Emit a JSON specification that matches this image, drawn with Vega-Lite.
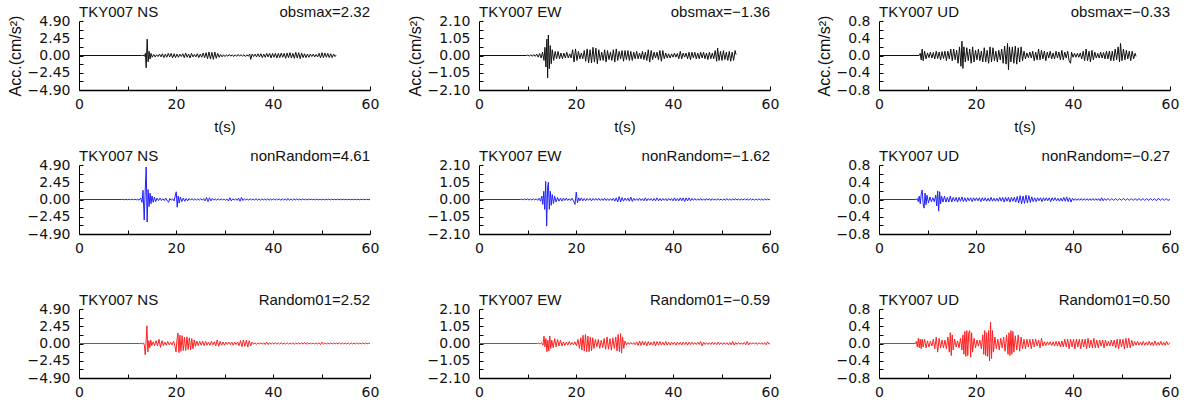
{
"$schema": "https://vega.github.io/schema/vega-lite/v6.json",
"padding": {"left": 7, "top": 5, "right": 0, "bottom": 0},
"config": {
 "view": {"stroke": null},
 "font": "Liberation Sans",
 "axis": {"grid": false, "domainColor": "#000", "tickColor": "#000", "tickWidth": 1, "labelFont": "DejaVu Sans", "labelFontSize": 14, "labelColor": "#111", "labelFlush": false, "titleFont": "Liberation Sans", "titleFontSize": 15, "titleFontWeight": "normal", "titleColor": "#111"},
 "axisX": {"domainWidth": 1.5, "titlePadding": 8},
 "axisY": {"domainWidth": 1, "titlePadding": 4},
 "line": {"strokeWidth": 1},
 "text": {"font": "Liberation Sans", "fontSize": 15, "color": "#111"}
},
"datasets": {
"ns_obs": [{"t":0,"a":0},{"t":12.9,"a":0},{"t":13.2,"a":0.05},{"t":13.5,"a":-0.1},{"t":13.7,"a":0.3},{"t":13.85,"a":-1.75},{"t":14.05,"a":2.32},{"t":14.25,"a":-0.9},{"t":14.45,"a":0.6},{"t":14.65,"a":-0.5},{"t":14.85,"a":0.3},{"t":15.1,"a":-0.25},{"t":15.4,"a":0.15},{"t":15.7,"a":-0.2},{"t":16.0,"a":0.1},{"t":16.3,"a":-0.15},{"t":16.6,"a":0.2},{"t":16.9,"a":-0.2},{"t":17.2,"a":0.25},{"t":17.5,"a":-0.3},{"t":17.8,"a":0.2},{"t":18.1,"a":-0.25},{"t":18.4,"a":0.3},{"t":18.7,"a":-0.2},{"t":19.0,"a":0.3},{"t":19.3,"a":-0.35},{"t":19.6,"a":0.25},{"t":19.9,"a":-0.3},{"t":20.2,"a":0.2},{"t":20.5,"a":-0.25},{"t":20.8,"a":0.2},{"t":21.1,"a":-0.15},{"t":21.4,"a":0.25},{"t":21.7,"a":-0.3},{"t":22.0,"a":0.35},{"t":22.3,"a":-0.25},{"t":22.6,"a":0.2},{"t":22.9,"a":-0.35},{"t":23.2,"a":0.3},{"t":23.5,"a":-0.2},{"t":23.8,"a":0.15},{"t":24.1,"a":-0.2},{"t":24.4,"a":0.25},{"t":24.7,"a":-0.3},{"t":25.0,"a":0.2},{"t":25.3,"a":-0.25},{"t":25.6,"a":0.35},{"t":25.9,"a":-0.3},{"t":26.2,"a":0.4},{"t":26.5,"a":-0.45},{"t":26.8,"a":0.5},{"t":27.1,"a":-0.5},{"t":27.4,"a":0.45},{"t":27.7,"a":-0.55},{"t":28.0,"a":0.5},{"t":28.3,"a":-0.4},{"t":28.6,"a":0.3},{"t":28.9,"a":-0.25},{"t":29.2,"a":0.15},{"t":29.5,"a":-0.2},{"t":29.8,"a":0.1},{"t":30.1,"a":-0.15},{"t":30.4,"a":0.1},{"t":30.7,"a":-0.1},{"t":31.0,"a":0.15},{"t":31.3,"a":-0.1},{"t":31.6,"a":0.1},{"t":31.9,"a":-0.15},{"t":32.2,"a":0.1},{"t":32.5,"a":-0.12},{"t":32.8,"a":0.15},{"t":33.1,"a":-0.1},{"t":33.4,"a":0.12},{"t":33.7,"a":-0.1},{"t":34.0,"a":0.1},{"t":34.3,"a":-0.15},{"t":34.6,"a":0.1},{"t":34.9,"a":-0.1},{"t":35.2,"a":0.2},{"t":35.4,"a":-0.55},{"t":35.7,"a":0.2},{"t":36.0,"a":-0.15},{"t":36.3,"a":0.2},{"t":36.6,"a":-0.2},{"t":36.9,"a":0.25},{"t":37.2,"a":-0.2},{"t":37.5,"a":0.25},{"t":37.8,"a":-0.3},{"t":38.1,"a":0.2},{"t":38.4,"a":-0.25},{"t":38.7,"a":0.3},{"t":39.0,"a":-0.2},{"t":39.3,"a":0.3},{"t":39.6,"a":-0.35},{"t":39.9,"a":0.3},{"t":40.2,"a":-0.25},{"t":40.5,"a":0.3},{"t":40.8,"a":-0.35},{"t":41.1,"a":0.3},{"t":41.4,"a":-0.3},{"t":41.7,"a":0.35},{"t":42.0,"a":-0.25},{"t":42.3,"a":0.3},{"t":42.6,"a":-0.4},{"t":42.9,"a":0.35},{"t":43.2,"a":-0.3},{"t":43.5,"a":0.4},{"t":43.8,"a":-0.35},{"t":44.1,"a":0.3},{"t":44.4,"a":-0.4},{"t":44.7,"a":0.45},{"t":45.0,"a":-0.35},{"t":45.3,"a":0.4},{"t":45.6,"a":-0.45},{"t":45.9,"a":0.35},{"t":46.2,"a":-0.3},{"t":46.5,"a":0.25},{"t":46.8,"a":-0.3},{"t":47.1,"a":0.2},{"t":47.4,"a":-0.25},{"t":47.7,"a":0.2},{"t":48.0,"a":-0.15},{"t":48.3,"a":0.2},{"t":48.6,"a":-0.2},{"t":48.9,"a":0.15},{"t":49.2,"a":-0.2},{"t":49.5,"a":0.3},{"t":49.8,"a":-0.35},{"t":50.1,"a":0.4},{"t":50.4,"a":-0.3},{"t":50.7,"a":0.35},{"t":51.0,"a":-0.25},{"t":51.3,"a":0.3},{"t":51.6,"a":-0.3},{"t":51.9,"a":0.25},{"t":52.2,"a":-0.3},{"t":52.5,"a":0.2},{"t":52.8,"a":-0.15},{"t":53.0,"a":0.05}],
"ew_obs": [{"t":0,"a":0},{"t":9.8,"a":0},{"t":10.1,"a":0.03},{"t":10.4,"a":-0.04},{"t":10.7,"a":0.05},{"t":11.0,"a":-0.05},{"t":11.3,"a":0.06},{"t":11.6,"a":-0.05},{"t":11.9,"a":0.08},{"t":12.2,"a":-0.1},{"t":12.5,"a":0.12},{"t":12.8,"a":-0.15},{"t":13.1,"a":0.2},{"t":13.4,"a":-0.3},{"t":13.6,"a":0.5},{"t":13.8,"a":-0.7},{"t":14.0,"a":1.0},{"t":14.15,"a":-1.36},{"t":14.3,"a":1.25},{"t":14.5,"a":-0.8},{"t":14.7,"a":0.6},{"t":14.9,"a":-0.5},{"t":15.1,"a":0.35},{"t":15.4,"a":-0.3},{"t":15.7,"a":0.25},{"t":16.0,"a":-0.2},{"t":16.3,"a":0.25},{"t":16.6,"a":-0.2},{"t":16.9,"a":0.15},{"t":17.2,"a":-0.2},{"t":17.5,"a":0.15},{"t":17.8,"a":-0.15},{"t":18.1,"a":0.2},{"t":18.4,"a":-0.15},{"t":18.7,"a":0.1},{"t":19.0,"a":-0.15},{"t":19.3,"a":0.35},{"t":19.6,"a":-0.4},{"t":19.9,"a":0.4},{"t":20.2,"a":-0.3},{"t":20.5,"a":0.25},{"t":20.8,"a":-0.2},{"t":21.1,"a":0.15},{"t":21.4,"a":-0.2},{"t":21.7,"a":0.3},{"t":22.0,"a":-0.35},{"t":22.3,"a":0.4},{"t":22.6,"a":-0.45},{"t":22.9,"a":0.35},{"t":23.2,"a":-0.45},{"t":23.5,"a":0.5},{"t":23.8,"a":-0.4},{"t":24.1,"a":0.45},{"t":24.4,"a":-0.5},{"t":24.7,"a":0.35},{"t":25.0,"a":-0.3},{"t":25.3,"a":0.2},{"t":25.6,"a":-0.3},{"t":25.9,"a":0.35},{"t":26.2,"a":-0.4},{"t":26.5,"a":0.3},{"t":26.8,"a":-0.25},{"t":27.1,"a":0.2},{"t":27.4,"a":-0.3},{"t":27.7,"a":0.35},{"t":28.0,"a":-0.4},{"t":28.3,"a":0.4},{"t":28.6,"a":-0.3},{"t":28.9,"a":0.25},{"t":29.2,"a":-0.2},{"t":29.5,"a":0.3},{"t":29.8,"a":-0.35},{"t":30.1,"a":0.3},{"t":30.4,"a":-0.25},{"t":30.7,"a":0.3},{"t":31.0,"a":-0.3},{"t":31.3,"a":0.25},{"t":31.6,"a":-0.3},{"t":31.9,"a":0.2},{"t":32.2,"a":-0.2},{"t":32.5,"a":0.25},{"t":32.8,"a":-0.2},{"t":33.1,"a":0.15},{"t":33.4,"a":-0.2},{"t":33.7,"a":0.25},{"t":34.0,"a":-0.25},{"t":34.3,"a":0.2},{"t":34.6,"a":-0.3},{"t":34.9,"a":0.35},{"t":35.2,"a":-0.4},{"t":35.5,"a":0.3},{"t":35.8,"a":-0.25},{"t":36.1,"a":0.2},{"t":36.4,"a":-0.15},{"t":36.7,"a":0.2},{"t":37.0,"a":-0.25},{"t":37.3,"a":0.3},{"t":37.6,"a":-0.35},{"t":37.9,"a":0.3},{"t":38.2,"a":-0.2},{"t":38.5,"a":0.15},{"t":38.8,"a":-0.15},{"t":39.1,"a":0.1},{"t":39.4,"a":-0.15},{"t":39.7,"a":0.1},{"t":40.0,"a":-0.1},{"t":40.3,"a":0.15},{"t":40.6,"a":-0.1},{"t":40.9,"a":0.12},{"t":41.2,"a":-0.2},{"t":41.5,"a":0.25},{"t":41.8,"a":-0.2},{"t":42.1,"a":0.15},{"t":42.4,"a":-0.1},{"t":42.7,"a":0.15},{"t":43.0,"a":-0.2},{"t":43.3,"a":0.2},{"t":43.6,"a":-0.25},{"t":43.9,"a":0.2},{"t":44.2,"a":-0.15},{"t":44.5,"a":0.2},{"t":44.8,"a":-0.2},{"t":45.1,"a":0.15},{"t":45.4,"a":-0.2},{"t":45.7,"a":0.2},{"t":46.0,"a":-0.15},{"t":46.3,"a":0.2},{"t":46.6,"a":-0.2},{"t":46.9,"a":0.15},{"t":47.2,"a":-0.25},{"t":47.5,"a":0.2},{"t":47.8,"a":-0.2},{"t":48.1,"a":0.15},{"t":48.4,"a":-0.2},{"t":48.7,"a":0.3},{"t":49.0,"a":-0.35},{"t":49.2,"a":0.45},{"t":49.5,"a":-0.3},{"t":49.8,"a":0.25},{"t":50.1,"a":-0.3},{"t":50.4,"a":0.3},{"t":50.7,"a":-0.25},{"t":51.0,"a":0.2},{"t":51.3,"a":-0.3},{"t":51.6,"a":0.25},{"t":51.9,"a":-0.35},{"t":52.2,"a":0.2},{"t":52.5,"a":-0.3},{"t":52.8,"a":0.3},{"t":53.0,"a":0.05}],
"ud_obs": [{"t":0,"a":0},{"t":8.3,"a":0},{"t":8.5,"a":0.05},{"t":8.7,"a":-0.1},{"t":8.9,"a":0.15},{"t":9.1,"a":-0.12},{"t":9.4,"a":0.1},{"t":9.7,"a":-0.08},{"t":10.0,"a":0.06},{"t":10.3,"a":-0.05},{"t":10.6,"a":0.08},{"t":10.9,"a":-0.06},{"t":11.2,"a":0.07},{"t":11.5,"a":-0.08},{"t":11.8,"a":0.1},{"t":12.1,"a":-0.07},{"t":12.4,"a":0.08},{"t":12.7,"a":-0.1},{"t":13.0,"a":0.09},{"t":13.3,"a":-0.07},{"t":13.6,"a":0.1},{"t":13.9,"a":-0.12},{"t":14.2,"a":0.1},{"t":14.5,"a":-0.08},{"t":14.8,"a":0.15},{"t":15.1,"a":-0.12},{"t":15.4,"a":0.15},{"t":15.7,"a":-0.1},{"t":16.0,"a":0.12},{"t":16.3,"a":-0.18},{"t":16.6,"a":0.2},{"t":16.9,"a":-0.25},{"t":17.1,"a":0.33},{"t":17.3,"a":-0.3},{"t":17.5,"a":0.2},{"t":17.8,"a":-0.15},{"t":18.1,"a":0.18},{"t":18.4,"a":-0.12},{"t":18.7,"a":0.15},{"t":19.0,"a":-0.18},{"t":19.3,"a":0.2},{"t":19.6,"a":-0.15},{"t":19.9,"a":0.12},{"t":20.2,"a":-0.1},{"t":20.5,"a":0.15},{"t":20.8,"a":-0.12},{"t":21.1,"a":0.1},{"t":21.4,"a":-0.15},{"t":21.7,"a":0.18},{"t":22.0,"a":-0.15},{"t":22.3,"a":0.12},{"t":22.6,"a":-0.18},{"t":22.9,"a":0.2},{"t":23.2,"a":-0.15},{"t":23.5,"a":0.18},{"t":23.8,"a":-0.12},{"t":24.1,"a":0.1},{"t":24.4,"a":-0.15},{"t":24.7,"a":0.12},{"t":25.0,"a":-0.1},{"t":25.3,"a":0.15},{"t":25.6,"a":-0.18},{"t":25.9,"a":0.22},{"t":26.2,"a":-0.2},{"t":26.5,"a":0.28},{"t":26.7,"a":-0.33},{"t":26.9,"a":0.2},{"t":27.2,"a":-0.15},{"t":27.5,"a":0.2},{"t":27.8,"a":-0.18},{"t":28.1,"a":0.22},{"t":28.4,"a":-0.2},{"t":28.7,"a":0.18},{"t":29.0,"a":-0.15},{"t":29.3,"a":0.2},{"t":29.6,"a":-0.12},{"t":29.9,"a":0.1},{"t":30.2,"a":-0.08},{"t":30.5,"a":0.06},{"t":30.8,"a":-0.05},{"t":31.1,"a":0.08},{"t":31.4,"a":-0.06},{"t":31.7,"a":0.1},{"t":32.0,"a":-0.12},{"t":32.3,"a":0.08},{"t":32.6,"a":-0.1},{"t":32.9,"a":0.15},{"t":33.2,"a":-0.1},{"t":33.5,"a":0.12},{"t":33.8,"a":-0.08},{"t":34.1,"a":0.1},{"t":34.4,"a":-0.12},{"t":34.7,"a":0.08},{"t":35.0,"a":-0.06},{"t":35.3,"a":0.1},{"t":35.6,"a":-0.08},{"t":35.9,"a":0.06},{"t":36.2,"a":-0.08},{"t":36.5,"a":0.1},{"t":36.8,"a":-0.06},{"t":37.1,"a":0.08},{"t":37.4,"a":-0.1},{"t":37.7,"a":0.12},{"t":38.0,"a":-0.1},{"t":38.3,"a":0.08},{"t":38.6,"a":-0.06},{"t":38.9,"a":0.1},{"t":39.2,"a":-0.12},{"t":39.5,"a":-0.18},{"t":39.7,"a":0.08},{"t":40.0,"a":-0.04},{"t":40.3,"a":0.05},{"t":40.6,"a":-0.04},{"t":40.9,"a":0.05},{"t":41.2,"a":-0.04},{"t":41.5,"a":0.06},{"t":41.8,"a":-0.08},{"t":42.1,"a":0.1},{"t":42.4,"a":-0.12},{"t":42.7,"a":0.15},{"t":43.0,"a":-0.12},{"t":43.3,"a":0.1},{"t":43.6,"a":-0.15},{"t":43.9,"a":0.12},{"t":44.2,"a":-0.1},{"t":44.5,"a":0.08},{"t":44.8,"a":-0.06},{"t":45.1,"a":0.05},{"t":45.4,"a":-0.06},{"t":45.7,"a":0.08},{"t":46.0,"a":-0.06},{"t":46.3,"a":0.07},{"t":46.6,"a":-0.08},{"t":46.9,"a":0.1},{"t":47.2,"a":-0.08},{"t":47.5,"a":0.1},{"t":47.8,"a":-0.12},{"t":48.1,"a":0.1},{"t":48.4,"a":-0.12},{"t":48.7,"a":0.15},{"t":49.0,"a":-0.1},{"t":49.3,"a":0.2},{"t":49.6,"a":-0.15},{"t":49.8,"a":0.28},{"t":50.1,"a":-0.12},{"t":50.4,"a":0.15},{"t":50.7,"a":-0.1},{"t":51.0,"a":0.12},{"t":51.3,"a":-0.08},{"t":51.6,"a":0.1},{"t":51.9,"a":-0.12},{"t":52.2,"a":0.1},{"t":52.5,"a":-0.08},{"t":52.8,"a":0.05},{"t":53.0,"a":-0.02}],
"ns_nr": [{"t":0,"a":0},{"t":8.8,"a":0},{"t":9.1,"a":0.02},{"t":9.4,"a":-0.03},{"t":9.7,"a":0.02},{"t":10.0,"a":-0.03},{"t":10.3,"a":0.03},{"t":10.6,"a":-0.03},{"t":10.9,"a":0.04},{"t":11.2,"a":-0.03},{"t":11.5,"a":0.04},{"t":11.8,"a":-0.05},{"t":12.1,"a":0.05},{"t":12.4,"a":-0.1},{"t":12.7,"a":0.2},{"t":13.0,"a":-0.4},{"t":13.2,"a":1.3},{"t":13.45,"a":-2.9},{"t":13.65,"a":1.2},{"t":13.85,"a":4.61},{"t":14.05,"a":-3.2},{"t":14.25,"a":1.4},{"t":14.45,"a":-1.0},{"t":14.65,"a":0.9},{"t":14.85,"a":-0.6},{"t":15.05,"a":0.5},{"t":15.3,"a":-0.4},{"t":15.55,"a":0.35},{"t":15.8,"a":-0.3},{"t":16.1,"a":0.2},{"t":16.4,"a":-0.15},{"t":16.7,"a":0.2},{"t":17.0,"a":-0.15},{"t":17.3,"a":0.1},{"t":17.6,"a":-0.15},{"t":17.9,"a":0.2},{"t":18.2,"a":-0.2},{"t":18.5,"a":-0.4},{"t":18.7,"a":0.15},{"t":19.0,"a":-0.1},{"t":19.3,"a":0.1},{"t":19.6,"a":-0.2},{"t":19.85,"a":0.5},{"t":20.05,"a":1.1},{"t":20.25,"a":-1.1},{"t":20.45,"a":0.5},{"t":20.65,"a":-0.5},{"t":20.9,"a":0.35},{"t":21.2,"a":-0.3},{"t":21.5,"a":0.2},{"t":21.8,"a":-0.25},{"t":22.1,"a":0.15},{"t":22.4,"a":-0.2},{"t":22.7,"a":0.15},{"t":23.0,"a":-0.1},{"t":23.3,"a":0.12},{"t":23.6,"a":-0.1},{"t":23.9,"a":0.1},{"t":24.2,"a":-0.08},{"t":24.5,"a":0.1},{"t":24.8,"a":-0.08},{"t":25.1,"a":0.1},{"t":25.4,"a":-0.1},{"t":25.7,"a":0.12},{"t":26.0,"a":-0.2},{"t":26.3,"a":0.3},{"t":26.6,"a":-0.3},{"t":26.9,"a":0.25},{"t":27.2,"a":-0.2},{"t":27.5,"a":0.15},{"t":27.8,"a":-0.1},{"t":28.1,"a":0.08},{"t":28.4,"a":-0.1},{"t":28.7,"a":0.12},{"t":29.0,"a":-0.1},{"t":29.3,"a":0.08},{"t":29.6,"a":-0.06},{"t":29.9,"a":0.08},{"t":30.2,"a":-0.1},{"t":30.5,"a":0.08},{"t":30.8,"a":-0.2},{"t":31.1,"a":0.25},{"t":31.4,"a":-0.2},{"t":31.7,"a":0.1},{"t":32.0,"a":-0.08},{"t":32.3,"a":0.1},{"t":32.6,"a":-0.12},{"t":32.9,"a":0.2},{"t":33.2,"a":-0.25},{"t":33.5,"a":0.3},{"t":33.8,"a":-0.15},{"t":34.1,"a":0.1},{"t":34.4,"a":-0.08},{"t":34.7,"a":0.06},{"t":35.0,"a":-0.08},{"t":35.3,"a":0.1},{"t":35.6,"a":-0.08},{"t":35.9,"a":0.06},{"t":36.2,"a":-0.1},{"t":36.5,"a":0.12},{"t":36.8,"a":-0.1},{"t":37.1,"a":0.08},{"t":37.4,"a":-0.1},{"t":37.7,"a":0.08},{"t":38.0,"a":-0.06},{"t":38.3,"a":0.08},{"t":38.6,"a":-0.1},{"t":38.9,"a":0.12},{"t":39.2,"a":-0.1},{"t":39.5,"a":0.08},{"t":39.8,"a":-0.1},{"t":40.1,"a":0.12},{"t":40.4,"a":-0.1},{"t":40.7,"a":0.1},{"t":41.0,"a":-0.08},{"t":41.3,"a":0.1},{"t":41.6,"a":-0.12},{"t":41.9,"a":0.1},{"t":42.2,"a":-0.08},{"t":42.5,"a":0.1},{"t":42.8,"a":-0.12},{"t":43.1,"a":0.15},{"t":43.4,"a":-0.1},{"t":43.7,"a":0.08},{"t":44.0,"a":-0.1},{"t":44.3,"a":0.08},{"t":44.6,"a":-0.06},{"t":44.9,"a":0.08},{"t":45.2,"a":-0.06},{"t":45.5,"a":0.05},{"t":45.8,"a":-0.06},{"t":46.1,"a":0.08},{"t":46.4,"a":-0.06},{"t":46.7,"a":0.05},{"t":47.0,"a":-0.06},{"t":47.3,"a":0.05},{"t":47.6,"a":-0.04},{"t":47.9,"a":0.06},{"t":48.2,"a":-0.05},{"t":48.5,"a":0.04},{"t":48.8,"a":-0.05},{"t":49.1,"a":0.06},{"t":49.4,"a":-0.05},{"t":49.7,"a":0.04},{"t":50.0,"a":-0.05},{"t":50.3,"a":0.06},{"t":50.6,"a":-0.05},{"t":50.9,"a":0.04},{"t":51.2,"a":-0.04},{"t":51.5,"a":0.05},{"t":51.8,"a":-0.06},{"t":52.1,"a":0.05},{"t":52.4,"a":-0.04},{"t":52.7,"a":0.03},{"t":53.0,"a":-0.04},{"t":53.3,"a":0.05},{"t":53.6,"a":-0.04},{"t":53.9,"a":0.03},{"t":54.2,"a":-0.04},{"t":54.5,"a":0.03},{"t":54.8,"a":-0.03},{"t":55.1,"a":0.04},{"t":55.4,"a":-0.03},{"t":55.7,"a":0.03},{"t":56.0,"a":-0.04},{"t":56.3,"a":0.03},{"t":56.6,"a":-0.03},{"t":56.9,"a":0.04},{"t":57.2,"a":-0.03},{"t":57.5,"a":0.03},{"t":57.8,"a":-0.04},{"t":58.1,"a":0.03},{"t":58.4,"a":-0.02},{"t":58.7,"a":0.03},{"t":59.0,"a":-0.03},{"t":59.3,"a":0.02},{"t":59.6,"a":-0.02},{"t":60.0,"a":0}],
"ew_nr": [{"t":0,"a":0},{"t":8.5,"a":0},{"t":8.8,"a":0.02},{"t":9.1,"a":-0.02},{"t":9.4,"a":0.03},{"t":9.7,"a":-0.02},{"t":10.0,"a":0.03},{"t":10.3,"a":-0.03},{"t":10.6,"a":0.02},{"t":10.9,"a":-0.03},{"t":11.2,"a":0.04},{"t":11.5,"a":-0.03},{"t":11.8,"a":0.04},{"t":12.1,"a":-0.05},{"t":12.4,"a":0.08},{"t":12.7,"a":-0.1},{"t":12.95,"a":0.2},{"t":13.15,"a":-0.3},{"t":13.35,"a":0.5},{"t":13.55,"a":-0.6},{"t":13.75,"a":1.1},{"t":13.95,"a":-1.62},{"t":14.15,"a":0.7},{"t":14.3,"a":1.05},{"t":14.5,"a":-0.6},{"t":14.7,"a":0.5},{"t":14.9,"a":-0.35},{"t":15.1,"a":0.3},{"t":15.35,"a":-0.25},{"t":15.6,"a":0.2},{"t":15.9,"a":-0.15},{"t":16.2,"a":0.12},{"t":16.5,"a":-0.1},{"t":16.8,"a":0.08},{"t":17.1,"a":-0.1},{"t":17.4,"a":0.08},{"t":17.7,"a":-0.06},{"t":18.0,"a":0.08},{"t":18.3,"a":-0.06},{"t":18.6,"a":0.05},{"t":18.9,"a":-0.06},{"t":19.2,"a":0.08},{"t":19.5,"a":-0.1},{"t":19.8,"a":-0.3},{"t":20.05,"a":0.45},{"t":20.3,"a":-0.2},{"t":20.55,"a":0.1},{"t":20.8,"a":-0.08},{"t":21.1,"a":0.1},{"t":21.4,"a":-0.08},{"t":21.7,"a":0.06},{"t":22.0,"a":-0.08},{"t":22.3,"a":0.06},{"t":22.6,"a":-0.05},{"t":22.9,"a":0.06},{"t":23.2,"a":-0.08},{"t":23.5,"a":0.06},{"t":23.8,"a":-0.05},{"t":24.1,"a":0.06},{"t":24.4,"a":-0.05},{"t":24.7,"a":0.07},{"t":25.0,"a":-0.06},{"t":25.3,"a":0.05},{"t":25.6,"a":-0.06},{"t":25.9,"a":0.08},{"t":26.2,"a":-0.06},{"t":26.5,"a":0.05},{"t":26.8,"a":-0.06},{"t":27.1,"a":0.05},{"t":27.4,"a":-0.06},{"t":27.7,"a":0.08},{"t":28.0,"a":-0.1},{"t":28.3,"a":0.1},{"t":28.6,"a":-0.15},{"t":28.9,"a":0.18},{"t":29.2,"a":-0.15},{"t":29.5,"a":0.12},{"t":29.8,"a":-0.1},{"t":30.1,"a":0.08},{"t":30.4,"a":-0.06},{"t":30.7,"a":0.08},{"t":31.0,"a":-0.1},{"t":31.3,"a":0.15},{"t":31.6,"a":-0.12},{"t":31.9,"a":0.08},{"t":32.2,"a":-0.06},{"t":32.5,"a":0.05},{"t":32.8,"a":-0.06},{"t":33.1,"a":0.08},{"t":33.4,"a":-0.06},{"t":33.7,"a":0.05},{"t":34.0,"a":-0.08},{"t":34.3,"a":0.1},{"t":34.6,"a":-0.08},{"t":34.9,"a":0.06},{"t":35.2,"a":-0.05},{"t":35.5,"a":0.06},{"t":35.8,"a":-0.08},{"t":36.1,"a":0.06},{"t":36.4,"a":-0.08},{"t":36.7,"a":0.1},{"t":37.0,"a":-0.08},{"t":37.3,"a":0.06},{"t":37.6,"a":-0.08},{"t":37.9,"a":0.06},{"t":38.2,"a":-0.05},{"t":38.5,"a":0.06},{"t":38.8,"a":-0.08},{"t":39.1,"a":0.06},{"t":39.4,"a":-0.05},{"t":39.7,"a":0.06},{"t":40.0,"a":-0.08},{"t":40.3,"a":0.1},{"t":40.6,"a":-0.08},{"t":40.9,"a":0.06},{"t":41.2,"a":-0.08},{"t":41.5,"a":0.1},{"t":41.8,"a":-0.08},{"t":42.1,"a":0.1},{"t":42.4,"a":-0.12},{"t":42.7,"a":0.1},{"t":43.0,"a":-0.08},{"t":43.3,"a":0.1},{"t":43.6,"a":-0.08},{"t":43.9,"a":0.06},{"t":44.2,"a":-0.05},{"t":44.5,"a":0.06},{"t":44.8,"a":-0.05},{"t":45.1,"a":0.04},{"t":45.4,"a":-0.05},{"t":45.7,"a":0.06},{"t":46.0,"a":-0.05},{"t":46.3,"a":0.04},{"t":46.6,"a":-0.05},{"t":46.9,"a":0.06},{"t":47.2,"a":-0.04},{"t":47.5,"a":0.05},{"t":47.8,"a":-0.06},{"t":48.1,"a":0.05},{"t":48.4,"a":-0.04},{"t":48.7,"a":0.03},{"t":49.0,"a":-0.04},{"t":49.3,"a":0.05},{"t":49.6,"a":-0.04},{"t":49.9,"a":0.03},{"t":50.2,"a":-0.04},{"t":50.5,"a":0.03},{"t":50.8,"a":-0.05},{"t":51.1,"a":0.06},{"t":51.4,"a":-0.04},{"t":51.7,"a":0.03},{"t":52.0,"a":-0.04},{"t":52.3,"a":0.03},{"t":52.6,"a":-0.03},{"t":52.9,"a":0.04},{"t":53.2,"a":-0.03},{"t":53.5,"a":0.03},{"t":53.8,"a":-0.04},{"t":54.1,"a":0.03},{"t":54.4,"a":-0.03},{"t":54.7,"a":0.04},{"t":55.0,"a":-0.03},{"t":55.3,"a":0.03},{"t":55.6,"a":-0.04},{"t":55.9,"a":0.05},{"t":56.2,"a":-0.03},{"t":56.5,"a":0.03},{"t":56.8,"a":-0.04},{"t":57.1,"a":0.03},{"t":57.4,"a":-0.03},{"t":57.7,"a":0.04},{"t":58.0,"a":-0.03},{"t":58.3,"a":0.03},{"t":58.6,"a":-0.04},{"t":58.9,"a":0.03},{"t":59.2,"a":-0.03},{"t":59.5,"a":0.03},{"t":59.8,"a":-0.02},{"t":60.0,"a":0}],
"ud_nr": [{"t":0,"a":0},{"t":7.6,"a":0},{"t":7.9,"a":0.02},{"t":8.1,"a":-0.05},{"t":8.3,"a":0.08},{"t":8.5,"a":-0.1},{"t":8.7,"a":0.12},{"t":8.9,"a":0.22},{"t":9.1,"a":-0.1},{"t":9.3,"a":-0.2},{"t":9.5,"a":0.15},{"t":9.7,"a":-0.12},{"t":9.9,"a":0.1},{"t":10.2,"a":-0.08},{"t":10.5,"a":0.06},{"t":10.8,"a":-0.05},{"t":11.1,"a":0.04},{"t":11.4,"a":-0.05},{"t":11.7,"a":0.1},{"t":11.9,"a":-0.15},{"t":12.1,"a":0.2},{"t":12.3,"a":-0.27},{"t":12.5,"a":0.18},{"t":12.7,"a":-0.1},{"t":12.9,"a":0.08},{"t":13.2,"a":-0.06},{"t":13.5,"a":0.08},{"t":13.8,"a":-0.06},{"t":14.1,"a":0.05},{"t":14.4,"a":-0.06},{"t":14.7,"a":0.08},{"t":15.0,"a":-0.06},{"t":15.3,"a":0.05},{"t":15.6,"a":-0.04},{"t":15.9,"a":0.05},{"t":16.2,"a":-0.06},{"t":16.5,"a":0.05},{"t":16.8,"a":-0.04},{"t":17.1,"a":0.06},{"t":17.4,"a":-0.05},{"t":17.7,"a":0.04},{"t":18.0,"a":-0.05},{"t":18.3,"a":0.04},{"t":18.6,"a":-0.03},{"t":18.9,"a":0.04},{"t":19.2,"a":-0.05},{"t":19.5,"a":0.04},{"t":19.8,"a":-0.03},{"t":20.1,"a":0.04},{"t":20.4,"a":-0.03},{"t":20.7,"a":0.04},{"t":21.0,"a":-0.05},{"t":21.3,"a":0.04},{"t":21.6,"a":-0.03},{"t":21.9,"a":0.04},{"t":22.2,"a":-0.04},{"t":22.5,"a":0.03},{"t":22.8,"a":-0.04},{"t":23.1,"a":0.05},{"t":23.4,"a":-0.04},{"t":23.7,"a":0.03},{"t":24.0,"a":-0.04},{"t":24.3,"a":0.03},{"t":24.6,"a":-0.04},{"t":24.9,"a":0.05},{"t":25.2,"a":-0.04},{"t":25.5,"a":0.05},{"t":25.8,"a":-0.06},{"t":26.1,"a":0.05},{"t":26.4,"a":-0.04},{"t":26.7,"a":0.05},{"t":27.0,"a":-0.06},{"t":27.3,"a":0.05},{"t":27.6,"a":-0.04},{"t":27.9,"a":0.05},{"t":28.2,"a":-0.06},{"t":28.5,"a":0.07},{"t":28.8,"a":-0.08},{"t":29.1,"a":0.09},{"t":29.4,"a":-0.1},{"t":29.7,"a":0.08},{"t":30.0,"a":-0.09},{"t":30.3,"a":0.1},{"t":30.6,"a":-0.08},{"t":30.9,"a":0.09},{"t":31.2,"a":-0.07},{"t":31.5,"a":0.06},{"t":31.8,"a":-0.05},{"t":32.1,"a":0.04},{"t":32.4,"a":-0.05},{"t":32.7,"a":0.04},{"t":33.0,"a":-0.03},{"t":33.3,"a":0.04},{"t":33.6,"a":-0.05},{"t":33.9,"a":0.04},{"t":34.2,"a":-0.03},{"t":34.5,"a":0.04},{"t":34.8,"a":-0.03},{"t":35.1,"a":0.04},{"t":35.4,"a":-0.05},{"t":35.7,"a":0.04},{"t":36.0,"a":-0.03},{"t":36.3,"a":0.04},{"t":36.6,"a":-0.03},{"t":36.9,"a":0.03},{"t":37.2,"a":-0.04},{"t":37.5,"a":0.03},{"t":37.8,"a":-0.04},{"t":38.1,"a":0.05},{"t":38.4,"a":-0.04},{"t":38.7,"a":0.06},{"t":39.0,"a":-0.05},{"t":39.3,"a":0.04},{"t":39.6,"a":-0.06},{"t":39.9,"a":0.03},{"t":40.2,"a":-0.02},{"t":40.5,"a":0.02},{"t":40.8,"a":-0.02},{"t":41.1,"a":0.02},{"t":41.4,"a":-0.02},{"t":41.7,"a":0.02},{"t":42.0,"a":-0.02},{"t":42.3,"a":0.02},{"t":42.6,"a":-0.02},{"t":42.9,"a":0.02},{"t":43.2,"a":-0.02},{"t":43.5,"a":0.02},{"t":43.8,"a":-0.02},{"t":44.1,"a":0.02},{"t":44.4,"a":-0.02},{"t":44.7,"a":0.02},{"t":45.0,"a":-0.02},{"t":45.3,"a":0.02},{"t":45.6,"a":-0.03},{"t":45.9,"a":0.04},{"t":46.2,"a":-0.03},{"t":46.5,"a":0.02},{"t":46.8,"a":-0.02},{"t":47.2,"a":0.02},{"t":47.6,"a":-0.02},{"t":48.0,"a":0.02},{"t":48.4,"a":-0.02},{"t":48.8,"a":0.02},{"t":49.2,"a":-0.02},{"t":49.6,"a":0.02},{"t":50.0,"a":-0.02},{"t":50.4,"a":0.03},{"t":50.8,"a":-0.02},{"t":51.2,"a":0.02},{"t":51.6,"a":-0.02},{"t":52.0,"a":0.02},{"t":52.4,"a":-0.02},{"t":52.8,"a":0.02},{"t":53.2,"a":-0.02},{"t":53.6,"a":0.02},{"t":54.0,"a":-0.02},{"t":54.4,"a":0.02},{"t":54.8,"a":-0.02},{"t":55.2,"a":0.02},{"t":55.6,"a":-0.02},{"t":56.0,"a":0.02},{"t":56.4,"a":-0.02},{"t":56.8,"a":0.02},{"t":57.2,"a":-0.03},{"t":57.6,"a":0.03},{"t":58.0,"a":-0.02},{"t":58.4,"a":0.02},{"t":58.8,"a":-0.02},{"t":59.2,"a":0.02},{"t":59.6,"a":-0.02},{"t":60.0,"a":0}],
"ns_r": [{"t":0,"a":0},{"t":12.5,"a":0},{"t":12.8,"a":0.03},{"t":13.1,"a":-0.05},{"t":13.3,"a":0.1},{"t":13.5,"a":-0.3},{"t":13.65,"a":-1.6},{"t":13.85,"a":0.5},{"t":14.0,"a":2.52},{"t":14.2,"a":-1.2},{"t":14.4,"a":0.4},{"t":14.6,"a":-0.6},{"t":14.8,"a":0.5},{"t":15.0,"a":-0.3},{"t":15.3,"a":0.25},{"t":15.6,"a":-0.3},{"t":15.9,"a":0.4},{"t":16.2,"a":-0.35},{"t":16.5,"a":0.6},{"t":16.8,"a":-0.55},{"t":17.1,"a":0.4},{"t":17.4,"a":-0.3},{"t":17.7,"a":0.2},{"t":18.0,"a":-0.25},{"t":18.3,"a":0.3},{"t":18.6,"a":-0.2},{"t":18.9,"a":0.15},{"t":19.2,"a":-0.2},{"t":19.5,"a":0.3},{"t":19.8,"a":-0.4},{"t":20.0,"a":-1.2},{"t":20.2,"a":0.5},{"t":20.4,"a":1.5},{"t":20.6,"a":-1.3},{"t":20.8,"a":1.2},{"t":21.0,"a":-1.1},{"t":21.25,"a":1.1},{"t":21.5,"a":-1.0},{"t":21.75,"a":0.9},{"t":22.0,"a":-1.0},{"t":22.25,"a":0.95},{"t":22.5,"a":-0.85},{"t":22.75,"a":0.8},{"t":23.0,"a":-0.9},{"t":23.25,"a":0.7},{"t":23.5,"a":-0.75},{"t":23.75,"a":0.5},{"t":24.0,"a":-0.4},{"t":24.3,"a":0.35},{"t":24.6,"a":-0.3},{"t":24.9,"a":0.3},{"t":25.2,"a":-0.25},{"t":25.5,"a":0.35},{"t":25.8,"a":-0.3},{"t":26.1,"a":0.3},{"t":26.4,"a":-0.25},{"t":26.7,"a":0.2},{"t":27.0,"a":-0.25},{"t":27.3,"a":0.3},{"t":27.6,"a":-0.2},{"t":27.9,"a":0.25},{"t":28.2,"a":-0.35},{"t":28.5,"a":0.5},{"t":28.8,"a":-0.4},{"t":29.1,"a":0.3},{"t":29.4,"a":-0.25},{"t":29.7,"a":0.2},{"t":30.0,"a":-0.25},{"t":30.3,"a":0.2},{"t":30.6,"a":-0.15},{"t":30.9,"a":0.2},{"t":31.2,"a":-0.15},{"t":31.5,"a":0.2},{"t":31.8,"a":-0.25},{"t":32.1,"a":0.2},{"t":32.4,"a":-0.15},{"t":32.7,"a":0.2},{"t":33.0,"a":-0.3},{"t":33.3,"a":0.4},{"t":33.6,"a":-0.45},{"t":33.9,"a":0.5},{"t":34.2,"a":-0.4},{"t":34.5,"a":0.45},{"t":34.8,"a":-0.5},{"t":35.1,"a":0.4},{"t":35.4,"a":-0.35},{"t":35.7,"a":0.2},{"t":36.0,"a":-0.1},{"t":36.3,"a":0.08},{"t":36.6,"a":-0.1},{"t":36.9,"a":0.08},{"t":37.2,"a":-0.06},{"t":37.5,"a":0.08},{"t":37.8,"a":-0.1},{"t":38.1,"a":0.12},{"t":38.4,"a":-0.15},{"t":38.7,"a":0.2},{"t":39.0,"a":-0.15},{"t":39.3,"a":0.12},{"t":39.6,"a":-0.1},{"t":39.9,"a":0.08},{"t":40.2,"a":-0.1},{"t":40.5,"a":0.12},{"t":40.8,"a":-0.1},{"t":41.1,"a":0.08},{"t":41.4,"a":-0.1},{"t":41.7,"a":0.12},{"t":42.0,"a":-0.1},{"t":42.3,"a":0.08},{"t":42.6,"a":-0.1},{"t":42.9,"a":0.12},{"t":43.2,"a":-0.1},{"t":43.5,"a":0.08},{"t":43.8,"a":-0.06},{"t":44.1,"a":0.08},{"t":44.4,"a":-0.1},{"t":44.7,"a":0.08},{"t":45.0,"a":-0.06},{"t":45.3,"a":0.08},{"t":45.6,"a":-0.1},{"t":45.9,"a":0.12},{"t":46.2,"a":-0.1},{"t":46.5,"a":0.15},{"t":46.8,"a":-0.1},{"t":47.1,"a":0.08},{"t":47.4,"a":-0.06},{"t":47.7,"a":0.05},{"t":48.0,"a":-0.06},{"t":48.3,"a":0.05},{"t":48.6,"a":-0.06},{"t":48.9,"a":0.08},{"t":49.2,"a":-0.06},{"t":49.5,"a":0.1},{"t":49.8,"a":-0.15},{"t":50.1,"a":0.2},{"t":50.4,"a":-0.12},{"t":50.7,"a":0.08},{"t":51.0,"a":-0.06},{"t":51.3,"a":0.08},{"t":51.6,"a":-0.06},{"t":51.9,"a":0.05},{"t":52.2,"a":-0.06},{"t":52.5,"a":0.08},{"t":52.8,"a":-0.06},{"t":53.1,"a":0.05},{"t":53.4,"a":-0.06},{"t":53.7,"a":0.08},{"t":54.0,"a":-0.1},{"t":54.3,"a":0.08},{"t":54.6,"a":-0.06},{"t":54.9,"a":0.05},{"t":55.2,"a":-0.06},{"t":55.5,"a":0.08},{"t":55.8,"a":-0.1},{"t":56.1,"a":0.08},{"t":56.4,"a":-0.06},{"t":56.7,"a":0.05},{"t":57.0,"a":-0.06},{"t":57.3,"a":0.08},{"t":57.6,"a":-0.06},{"t":57.9,"a":0.05},{"t":58.2,"a":-0.06},{"t":58.5,"a":0.08},{"t":58.8,"a":-0.05},{"t":59.1,"a":0.06},{"t":59.4,"a":-0.05},{"t":59.7,"a":0.04},{"t":60.0,"a":0}],
"ew_r": [{"t":0,"a":0},{"t":12.0,"a":0},{"t":12.3,"a":0.02},{"t":12.6,"a":-0.03},{"t":12.9,"a":0.05},{"t":13.2,"a":-0.1},{"t":13.4,"a":0.45},{"t":13.6,"a":-0.2},{"t":13.8,"a":0.3},{"t":14.0,"a":-0.5},{"t":14.2,"a":0.2},{"t":14.4,"a":-0.45},{"t":14.6,"a":0.45},{"t":14.8,"a":-0.3},{"t":15.0,"a":0.2},{"t":15.3,"a":-0.25},{"t":15.6,"a":0.3},{"t":15.9,"a":-0.2},{"t":16.2,"a":0.25},{"t":16.5,"a":-0.15},{"t":16.8,"a":0.2},{"t":17.1,"a":-0.15},{"t":17.4,"a":0.1},{"t":17.7,"a":-0.12},{"t":18.0,"a":0.08},{"t":18.3,"a":-0.1},{"t":18.6,"a":0.12},{"t":18.9,"a":-0.08},{"t":19.2,"a":0.06},{"t":19.5,"a":-0.08},{"t":19.8,"a":0.1},{"t":20.1,"a":-0.15},{"t":20.4,"a":0.25},{"t":20.7,"a":-0.3},{"t":21.0,"a":0.35},{"t":21.2,"a":-0.4},{"t":21.45,"a":0.5},{"t":21.7,"a":-0.45},{"t":21.95,"a":0.55},{"t":22.2,"a":-0.5},{"t":22.45,"a":0.45},{"t":22.7,"a":-0.5},{"t":22.95,"a":0.4},{"t":23.2,"a":-0.45},{"t":23.45,"a":0.35},{"t":23.7,"a":-0.3},{"t":24.0,"a":0.25},{"t":24.3,"a":-0.2},{"t":24.6,"a":0.25},{"t":24.9,"a":-0.3},{"t":25.2,"a":0.2},{"t":25.5,"a":-0.25},{"t":25.8,"a":0.3},{"t":26.1,"a":-0.35},{"t":26.4,"a":0.4},{"t":26.7,"a":-0.35},{"t":27.0,"a":0.3},{"t":27.3,"a":-0.4},{"t":27.6,"a":0.35},{"t":27.9,"a":-0.3},{"t":28.2,"a":0.4},{"t":28.45,"a":-0.45},{"t":28.7,"a":0.55},{"t":28.95,"a":-0.5},{"t":29.2,"a":0.6},{"t":29.4,"a":-0.59},{"t":29.6,"a":0.4},{"t":29.85,"a":-0.3},{"t":30.1,"a":0.15},{"t":30.4,"a":-0.08},{"t":30.7,"a":0.06},{"t":31.0,"a":-0.05},{"t":31.3,"a":0.06},{"t":31.6,"a":-0.05},{"t":31.9,"a":0.06},{"t":32.2,"a":-0.08},{"t":32.5,"a":0.1},{"t":32.8,"a":-0.12},{"t":33.1,"a":0.15},{"t":33.4,"a":-0.12},{"t":33.7,"a":0.15},{"t":34.0,"a":-0.1},{"t":34.3,"a":0.12},{"t":34.6,"a":-0.15},{"t":34.9,"a":0.12},{"t":35.2,"a":-0.1},{"t":35.5,"a":0.08},{"t":35.8,"a":-0.1},{"t":36.1,"a":0.12},{"t":36.4,"a":-0.15},{"t":36.7,"a":0.12},{"t":37.0,"a":-0.1},{"t":37.3,"a":0.12},{"t":37.6,"a":-0.1},{"t":37.9,"a":0.08},{"t":38.2,"a":-0.1},{"t":38.5,"a":0.12},{"t":38.8,"a":-0.1},{"t":39.1,"a":0.08},{"t":39.4,"a":-0.1},{"t":39.7,"a":0.08},{"t":40.0,"a":-0.06},{"t":40.3,"a":0.08},{"t":40.6,"a":-0.1},{"t":40.9,"a":0.08},{"t":41.2,"a":-0.06},{"t":41.5,"a":0.08},{"t":41.8,"a":-0.1},{"t":42.1,"a":0.08},{"t":42.4,"a":-0.06},{"t":42.7,"a":0.08},{"t":43.0,"a":-0.1},{"t":43.3,"a":0.08},{"t":43.6,"a":-0.06},{"t":43.9,"a":0.08},{"t":44.2,"a":-0.06},{"t":44.5,"a":0.05},{"t":44.8,"a":-0.06},{"t":45.1,"a":0.08},{"t":45.4,"a":-0.06},{"t":45.7,"a":0.12},{"t":46.0,"a":-0.15},{"t":46.3,"a":0.08},{"t":46.6,"a":-0.06},{"t":46.9,"a":0.05},{"t":47.2,"a":-0.06},{"t":47.5,"a":0.05},{"t":47.8,"a":-0.06},{"t":48.1,"a":0.08},{"t":48.4,"a":-0.06},{"t":48.7,"a":0.05},{"t":49.0,"a":-0.06},{"t":49.3,"a":0.08},{"t":49.6,"a":-0.06},{"t":49.9,"a":0.05},{"t":50.2,"a":-0.06},{"t":50.5,"a":0.05},{"t":50.8,"a":-0.06},{"t":51.1,"a":0.05},{"t":51.4,"a":-0.08},{"t":51.7,"a":0.06},{"t":52.0,"a":-0.08},{"t":52.3,"a":0.12},{"t":52.6,"a":-0.1},{"t":52.9,"a":0.06},{"t":53.2,"a":-0.05},{"t":53.5,"a":0.06},{"t":53.8,"a":-0.05},{"t":54.1,"a":0.04},{"t":54.4,"a":-0.05},{"t":54.7,"a":0.06},{"t":55.0,"a":-0.08},{"t":55.3,"a":0.12},{"t":55.6,"a":-0.08},{"t":55.9,"a":0.05},{"t":56.2,"a":-0.04},{"t":56.5,"a":0.05},{"t":56.8,"a":-0.04},{"t":57.1,"a":0.05},{"t":57.4,"a":-0.06},{"t":57.7,"a":0.05},{"t":58.0,"a":-0.04},{"t":58.3,"a":0.05},{"t":58.6,"a":-0.06},{"t":58.9,"a":0.05},{"t":59.2,"a":-0.08},{"t":59.5,"a":0.1},{"t":59.8,"a":-0.04},{"t":60.0,"a":0}],
"ud_r": [{"t":0,"a":0},{"t":7.5,"a":0},{"t":7.7,"a":0.05},{"t":7.9,"a":-0.08},{"t":8.1,"a":0.12},{"t":8.3,"a":-0.1},{"t":8.5,"a":0.1},{"t":8.7,"a":-0.12},{"t":8.9,"a":0.1},{"t":9.1,"a":-0.08},{"t":9.4,"a":0.1},{"t":9.7,"a":-0.1},{"t":10.0,"a":0.06},{"t":10.3,"a":-0.08},{"t":10.6,"a":0.05},{"t":10.9,"a":-0.06},{"t":11.2,"a":0.1},{"t":11.5,"a":-0.12},{"t":11.8,"a":0.15},{"t":12.1,"a":-0.2},{"t":12.4,"a":0.12},{"t":12.7,"a":-0.1},{"t":13.0,"a":0.08},{"t":13.3,"a":-0.1},{"t":13.6,"a":0.08},{"t":13.9,"a":-0.12},{"t":14.2,"a":0.15},{"t":14.5,"a":-0.2},{"t":14.7,"a":0.25},{"t":14.9,"a":-0.28},{"t":15.1,"a":0.2},{"t":15.3,"a":-0.15},{"t":15.6,"a":0.1},{"t":15.9,"a":-0.08},{"t":16.2,"a":0.06},{"t":16.5,"a":-0.1},{"t":16.8,"a":0.12},{"t":17.1,"a":-0.15},{"t":17.3,"a":0.2},{"t":17.5,"a":-0.25},{"t":17.7,"a":0.28},{"t":17.9,"a":-0.3},{"t":18.1,"a":0.3},{"t":18.3,"a":-0.28},{"t":18.5,"a":0.25},{"t":18.7,"a":0.3},{"t":18.9,"a":-0.32},{"t":19.1,"a":0.25},{"t":19.3,"a":-0.2},{"t":19.6,"a":0.12},{"t":19.9,"a":-0.1},{"t":20.2,"a":0.08},{"t":20.5,"a":-0.06},{"t":20.8,"a":0.08},{"t":21.1,"a":-0.12},{"t":21.4,"a":0.2},{"t":21.6,"a":-0.25},{"t":21.8,"a":0.3},{"t":22.0,"a":-0.28},{"t":22.2,"a":0.25},{"t":22.4,"a":-0.3},{"t":22.6,"a":0.3},{"t":22.8,"a":-0.4},{"t":23.0,"a":0.5},{"t":23.2,"a":-0.35},{"t":23.4,"a":0.3},{"t":23.6,"a":-0.2},{"t":23.9,"a":0.15},{"t":24.2,"a":-0.12},{"t":24.5,"a":0.1},{"t":24.8,"a":-0.15},{"t":25.1,"a":0.12},{"t":25.4,"a":-0.1},{"t":25.7,"a":0.15},{"t":26.0,"a":-0.18},{"t":26.3,"a":0.2},{"t":26.6,"a":-0.25},{"t":26.8,"a":0.25},{"t":27.0,"a":-0.28},{"t":27.2,"a":0.3},{"t":27.4,"a":-0.25},{"t":27.6,"a":0.28},{"t":27.8,"a":-0.2},{"t":28.1,"a":0.18},{"t":28.4,"a":-0.15},{"t":28.7,"a":0.2},{"t":29.0,"a":-0.18},{"t":29.3,"a":0.15},{"t":29.6,"a":-0.12},{"t":29.9,"a":0.1},{"t":30.2,"a":-0.12},{"t":30.5,"a":0.1},{"t":30.8,"a":-0.08},{"t":31.1,"a":0.1},{"t":31.4,"a":-0.12},{"t":31.7,"a":0.1},{"t":32.0,"a":-0.08},{"t":32.3,"a":0.1},{"t":32.6,"a":-0.06},{"t":32.9,"a":0.08},{"t":33.2,"a":-0.1},{"t":33.5,"a":0.12},{"t":33.8,"a":-0.06},{"t":34.1,"a":0.04},{"t":34.4,"a":-0.05},{"t":34.7,"a":0.04},{"t":35.0,"a":-0.03},{"t":35.3,"a":0.04},{"t":35.6,"a":-0.05},{"t":35.9,"a":0.04},{"t":36.2,"a":-0.06},{"t":36.5,"a":0.05},{"t":36.8,"a":-0.06},{"t":37.1,"a":0.05},{"t":37.4,"a":-0.08},{"t":37.7,"a":0.06},{"t":38.0,"a":-0.08},{"t":38.3,"a":0.1},{"t":38.6,"a":-0.08},{"t":38.9,"a":0.1},{"t":39.2,"a":-0.12},{"t":39.5,"a":0.1},{"t":39.8,"a":-0.08},{"t":40.1,"a":0.1},{"t":40.4,"a":-0.12},{"t":40.7,"a":0.1},{"t":41.0,"a":-0.08},{"t":41.3,"a":0.1},{"t":41.6,"a":-0.12},{"t":41.9,"a":0.1},{"t":42.2,"a":-0.08},{"t":42.5,"a":0.1},{"t":42.8,"a":-0.12},{"t":43.1,"a":0.12},{"t":43.4,"a":-0.1},{"t":43.7,"a":0.08},{"t":44.0,"a":-0.1},{"t":44.3,"a":0.12},{"t":44.6,"a":-0.1},{"t":44.9,"a":0.08},{"t":45.2,"a":-0.1},{"t":45.5,"a":0.08},{"t":45.8,"a":-0.06},{"t":46.1,"a":0.08},{"t":46.4,"a":-0.1},{"t":46.7,"a":0.08},{"t":47.0,"a":-0.06},{"t":47.3,"a":0.05},{"t":47.6,"a":-0.06},{"t":47.9,"a":0.08},{"t":48.2,"a":-0.06},{"t":48.5,"a":0.08},{"t":48.8,"a":-0.1},{"t":49.1,"a":0.1},{"t":49.4,"a":-0.12},{"t":49.7,"a":0.1},{"t":50.0,"a":-0.08},{"t":50.3,"a":0.1},{"t":50.6,"a":-0.12},{"t":50.9,"a":0.12},{"t":51.2,"a":-0.1},{"t":51.5,"a":0.12},{"t":51.8,"a":-0.1},{"t":52.1,"a":0.08},{"t":52.4,"a":-0.06},{"t":52.7,"a":0.05},{"t":53.0,"a":-0.04},{"t":53.3,"a":0.05},{"t":53.6,"a":-0.04},{"t":53.9,"a":0.03},{"t":54.2,"a":-0.04},{"t":54.5,"a":0.05},{"t":54.8,"a":-0.04},{"t":55.1,"a":0.03},{"t":55.4,"a":-0.04},{"t":55.7,"a":0.05},{"t":56.0,"a":-0.04},{"t":56.3,"a":0.03},{"t":56.6,"a":-0.05},{"t":56.9,"a":0.06},{"t":57.2,"a":-0.04},{"t":57.5,"a":0.03},{"t":57.8,"a":-0.04},{"t":58.1,"a":0.05},{"t":58.4,"a":-0.04},{"t":58.7,"a":0.03},{"t":59.0,"a":-0.04},{"t":59.3,"a":0.05},{"t":59.6,"a":-0.03},{"t":60.0,"a":0.02}]
},
"columns": 3,
"bounds": "flush",
"spacing": {"row": 75, "column": 109},
"concat": [
{"data": {"name": "ns_obs"}, "width": 291, "height": 69, "layer": [
 {"mark": {"type": "line", "color": "#111"}, "encoding": {
  "x": {"field": "t", "type": "quantitative", "scale": {"domain": [0, 60], "nice": false}, "axis": {"values": [0,10,20,30,40,50,60], "tickCount": 20, "labelExpr": "datum.value % 20 == 0 ? datum.label : ''", "labelOverlap": false, "tickSize": -4, "labelPadding": 11, "title": "t(s)"}},
  "y": {"field": "a", "type": "quantitative", "scale": {"domain": [-4.9, 4.9], "nice": false, "zero": false}, "axis": {"values": [-4.9,-3.675,-2.45,-1.225,0,1.225,2.45,3.675,4.9], "tickCount": 20, "format": ".2f", "labelExpr": "indexof([-4.9,-2.45,0,2.45,4.9], datum.value) >= 0 ? datum.label : ''", "labelOverlap": false, "tickSize": -4, "labelPadding": 13, "title": "Acc.(cm/s²)", "titleFontSize": 16}}}},
 {"data": {"values": [{"tl": "TKY007 NS", "tr": "obsmax=2.32"}]}, "layer": [
  {"mark": {"type": "text", "align": "left", "baseline": "alphabetic", "dy": -4}, "encoding": {"x": {"datum": 0, "type": "quantitative"}, "y": {"datum": 4.9, "type": "quantitative"}, "text": {"field": "tl"}}},
  {"mark": {"type": "text", "align": "right", "baseline": "alphabetic", "dy": -4}, "encoding": {"x": {"datum": 60, "type": "quantitative"}, "y": {"datum": 4.9, "type": "quantitative"}, "text": {"field": "tr"}}}
 ]}
]},
{"data": {"name": "ew_obs"}, "width": 291, "height": 69, "layer": [
 {"mark": {"type": "line", "color": "#111"}, "encoding": {
  "x": {"field": "t", "type": "quantitative", "scale": {"domain": [0, 60], "nice": false}, "axis": {"values": [0,10,20,30,40,50,60], "tickCount": 20, "labelExpr": "datum.value % 20 == 0 ? datum.label : ''", "labelOverlap": false, "tickSize": -4, "labelPadding": 11, "title": "t(s)"}},
  "y": {"field": "a", "type": "quantitative", "scale": {"domain": [-2.1, 2.1], "nice": false, "zero": false}, "axis": {"values": [-2.1,-1.575,-1.05,-0.525,0,0.525,1.05,1.575,2.1], "tickCount": 20, "format": ".2f", "labelExpr": "indexof([-2.1,-1.05,0,1.05,2.1], datum.value) >= 0 ? datum.label : ''", "labelOverlap": false, "tickSize": -4, "labelPadding": 13, "title": "Acc.(cm/s²)", "titleFontSize": 16}}}},
 {"data": {"values": [{"tl": "TKY007 EW", "tr": "obsmax=−1.36"}]}, "layer": [
  {"mark": {"type": "text", "align": "left", "baseline": "alphabetic", "dy": -4}, "encoding": {"x": {"datum": 0, "type": "quantitative"}, "y": {"datum": 2.1, "type": "quantitative"}, "text": {"field": "tl"}}},
  {"mark": {"type": "text", "align": "right", "baseline": "alphabetic", "dy": -4}, "encoding": {"x": {"datum": 60, "type": "quantitative"}, "y": {"datum": 2.1, "type": "quantitative"}, "text": {"field": "tr"}}}
 ]}
]},
{"data": {"name": "ud_obs"}, "width": 291, "height": 69, "layer": [
 {"mark": {"type": "line", "color": "#111"}, "encoding": {
  "x": {"field": "t", "type": "quantitative", "scale": {"domain": [0, 60], "nice": false}, "axis": {"values": [0,10,20,30,40,50,60], "tickCount": 20, "labelExpr": "datum.value % 20 == 0 ? datum.label : ''", "labelOverlap": false, "tickSize": -4, "labelPadding": 11, "title": "t(s)"}},
  "y": {"field": "a", "type": "quantitative", "scale": {"domain": [-0.8, 0.8], "nice": false, "zero": false}, "axis": {"values": [-0.8,-0.6,-0.4,-0.2,0,0.2,0.4,0.6,0.8], "tickCount": 20, "format": ".1f", "labelExpr": "indexof([-0.8,-0.4,0,0.4,0.8], datum.value) >= 0 ? datum.label : ''", "labelOverlap": false, "tickSize": -4, "labelPadding": 13, "title": "Acc.(cm/s²)", "titleFontSize": 16}}}},
 {"data": {"values": [{"tl": "TKY007 UD", "tr": "obsmax=−0.33"}]}, "layer": [
  {"mark": {"type": "text", "align": "left", "baseline": "alphabetic", "dy": -4}, "encoding": {"x": {"datum": 0, "type": "quantitative"}, "y": {"datum": 0.8, "type": "quantitative"}, "text": {"field": "tl"}}},
  {"mark": {"type": "text", "align": "right", "baseline": "alphabetic", "dy": -4}, "encoding": {"x": {"datum": 60, "type": "quantitative"}, "y": {"datum": 0.8, "type": "quantitative"}, "text": {"field": "tr"}}}
 ]}
]},
{"data": {"name": "ns_nr"}, "width": 291, "height": 69, "layer": [
 {"mark": {"type": "line", "color": "#2020ff"}, "encoding": {
  "x": {"field": "t", "type": "quantitative", "scale": {"domain": [0, 60], "nice": false}, "axis": {"values": [0,10,20,30,40,50,60], "tickCount": 20, "labelExpr": "datum.value % 20 == 0 ? datum.label : ''", "labelOverlap": false, "tickSize": -4, "labelPadding": 11, "title": null}},
  "y": {"field": "a", "type": "quantitative", "scale": {"domain": [-4.9, 4.9], "nice": false, "zero": false}, "axis": {"values": [-4.9,-3.675,-2.45,-1.225,0,1.225,2.45,3.675,4.9], "tickCount": 20, "format": ".2f", "labelExpr": "indexof([-4.9,-2.45,0,2.45,4.9], datum.value) >= 0 ? datum.label : ''", "labelOverlap": false, "tickSize": -4, "labelPadding": 13, "title": null}}}},
 {"data": {"values": [{"tl": "TKY007 NS", "tr": "nonRandom=4.61"}]}, "layer": [
  {"mark": {"type": "text", "align": "left", "baseline": "alphabetic", "dy": -4}, "encoding": {"x": {"datum": 0, "type": "quantitative"}, "y": {"datum": 4.9, "type": "quantitative"}, "text": {"field": "tl"}}},
  {"mark": {"type": "text", "align": "right", "baseline": "alphabetic", "dy": -4}, "encoding": {"x": {"datum": 60, "type": "quantitative"}, "y": {"datum": 4.9, "type": "quantitative"}, "text": {"field": "tr"}}}
 ]}
]},
{"data": {"name": "ew_nr"}, "width": 291, "height": 69, "layer": [
 {"mark": {"type": "line", "color": "#2020ff"}, "encoding": {
  "x": {"field": "t", "type": "quantitative", "scale": {"domain": [0, 60], "nice": false}, "axis": {"values": [0,10,20,30,40,50,60], "tickCount": 20, "labelExpr": "datum.value % 20 == 0 ? datum.label : ''", "labelOverlap": false, "tickSize": -4, "labelPadding": 11, "title": null}},
  "y": {"field": "a", "type": "quantitative", "scale": {"domain": [-2.1, 2.1], "nice": false, "zero": false}, "axis": {"values": [-2.1,-1.575,-1.05,-0.525,0,0.525,1.05,1.575,2.1], "tickCount": 20, "format": ".2f", "labelExpr": "indexof([-2.1,-1.05,0,1.05,2.1], datum.value) >= 0 ? datum.label : ''", "labelOverlap": false, "tickSize": -4, "labelPadding": 13, "title": null}}}},
 {"data": {"values": [{"tl": "TKY007 EW", "tr": "nonRandom=−1.62"}]}, "layer": [
  {"mark": {"type": "text", "align": "left", "baseline": "alphabetic", "dy": -4}, "encoding": {"x": {"datum": 0, "type": "quantitative"}, "y": {"datum": 2.1, "type": "quantitative"}, "text": {"field": "tl"}}},
  {"mark": {"type": "text", "align": "right", "baseline": "alphabetic", "dy": -4}, "encoding": {"x": {"datum": 60, "type": "quantitative"}, "y": {"datum": 2.1, "type": "quantitative"}, "text": {"field": "tr"}}}
 ]}
]},
{"data": {"name": "ud_nr"}, "width": 291, "height": 69, "layer": [
 {"mark": {"type": "line", "color": "#2020ff"}, "encoding": {
  "x": {"field": "t", "type": "quantitative", "scale": {"domain": [0, 60], "nice": false}, "axis": {"values": [0,10,20,30,40,50,60], "tickCount": 20, "labelExpr": "datum.value % 20 == 0 ? datum.label : ''", "labelOverlap": false, "tickSize": -4, "labelPadding": 11, "title": null}},
  "y": {"field": "a", "type": "quantitative", "scale": {"domain": [-0.8, 0.8], "nice": false, "zero": false}, "axis": {"values": [-0.8,-0.6,-0.4,-0.2,0,0.2,0.4,0.6,0.8], "tickCount": 20, "format": ".1f", "labelExpr": "indexof([-0.8,-0.4,0,0.4,0.8], datum.value) >= 0 ? datum.label : ''", "labelOverlap": false, "tickSize": -4, "labelPadding": 13, "title": null}}}},
 {"data": {"values": [{"tl": "TKY007 UD", "tr": "nonRandom=−0.27"}]}, "layer": [
  {"mark": {"type": "text", "align": "left", "baseline": "alphabetic", "dy": -4}, "encoding": {"x": {"datum": 0, "type": "quantitative"}, "y": {"datum": 0.8, "type": "quantitative"}, "text": {"field": "tl"}}},
  {"mark": {"type": "text", "align": "right", "baseline": "alphabetic", "dy": -4}, "encoding": {"x": {"datum": 60, "type": "quantitative"}, "y": {"datum": 0.8, "type": "quantitative"}, "text": {"field": "tr"}}}
 ]}
]},
{"data": {"name": "ns_r"}, "width": 291, "height": 69, "layer": [
 {"mark": {"type": "line", "color": "#ff2020"}, "encoding": {
  "x": {"field": "t", "type": "quantitative", "scale": {"domain": [0, 60], "nice": false}, "axis": {"values": [0,10,20,30,40,50,60], "tickCount": 20, "labelExpr": "datum.value % 20 == 0 ? datum.label : ''", "labelOverlap": false, "tickSize": -4, "labelPadding": 11, "title": null}},
  "y": {"field": "a", "type": "quantitative", "scale": {"domain": [-4.9, 4.9], "nice": false, "zero": false}, "axis": {"values": [-4.9,-3.675,-2.45,-1.225,0,1.225,2.45,3.675,4.9], "tickCount": 20, "format": ".2f", "labelExpr": "indexof([-4.9,-2.45,0,2.45,4.9], datum.value) >= 0 ? datum.label : ''", "labelOverlap": false, "tickSize": -4, "labelPadding": 13, "title": null}}}},
 {"data": {"values": [{"tl": "TKY007 NS", "tr": "Random01=2.52"}]}, "layer": [
  {"mark": {"type": "text", "align": "left", "baseline": "alphabetic", "dy": -4}, "encoding": {"x": {"datum": 0, "type": "quantitative"}, "y": {"datum": 4.9, "type": "quantitative"}, "text": {"field": "tl"}}},
  {"mark": {"type": "text", "align": "right", "baseline": "alphabetic", "dy": -4}, "encoding": {"x": {"datum": 60, "type": "quantitative"}, "y": {"datum": 4.9, "type": "quantitative"}, "text": {"field": "tr"}}}
 ]}
]},
{"data": {"name": "ew_r"}, "width": 291, "height": 69, "layer": [
 {"mark": {"type": "line", "color": "#ff2020"}, "encoding": {
  "x": {"field": "t", "type": "quantitative", "scale": {"domain": [0, 60], "nice": false}, "axis": {"values": [0,10,20,30,40,50,60], "tickCount": 20, "labelExpr": "datum.value % 20 == 0 ? datum.label : ''", "labelOverlap": false, "tickSize": -4, "labelPadding": 11, "title": null}},
  "y": {"field": "a", "type": "quantitative", "scale": {"domain": [-2.1, 2.1], "nice": false, "zero": false}, "axis": {"values": [-2.1,-1.575,-1.05,-0.525,0,0.525,1.05,1.575,2.1], "tickCount": 20, "format": ".2f", "labelExpr": "indexof([-2.1,-1.05,0,1.05,2.1], datum.value) >= 0 ? datum.label : ''", "labelOverlap": false, "tickSize": -4, "labelPadding": 13, "title": null}}}},
 {"data": {"values": [{"tl": "TKY007 EW", "tr": "Random01=−0.59"}]}, "layer": [
  {"mark": {"type": "text", "align": "left", "baseline": "alphabetic", "dy": -4}, "encoding": {"x": {"datum": 0, "type": "quantitative"}, "y": {"datum": 2.1, "type": "quantitative"}, "text": {"field": "tl"}}},
  {"mark": {"type": "text", "align": "right", "baseline": "alphabetic", "dy": -4}, "encoding": {"x": {"datum": 60, "type": "quantitative"}, "y": {"datum": 2.1, "type": "quantitative"}, "text": {"field": "tr"}}}
 ]}
]},
{"data": {"name": "ud_r"}, "width": 291, "height": 69, "layer": [
 {"mark": {"type": "line", "color": "#ff2020"}, "encoding": {
  "x": {"field": "t", "type": "quantitative", "scale": {"domain": [0, 60], "nice": false}, "axis": {"values": [0,10,20,30,40,50,60], "tickCount": 20, "labelExpr": "datum.value % 20 == 0 ? datum.label : ''", "labelOverlap": false, "tickSize": -4, "labelPadding": 11, "title": null}},
  "y": {"field": "a", "type": "quantitative", "scale": {"domain": [-0.8, 0.8], "nice": false, "zero": false}, "axis": {"values": [-0.8,-0.6,-0.4,-0.2,0,0.2,0.4,0.6,0.8], "tickCount": 20, "format": ".1f", "labelExpr": "indexof([-0.8,-0.4,0,0.4,0.8], datum.value) >= 0 ? datum.label : ''", "labelOverlap": false, "tickSize": -4, "labelPadding": 13, "title": null}}}},
 {"data": {"values": [{"tl": "TKY007 UD", "tr": "Random01=0.50"}]}, "layer": [
  {"mark": {"type": "text", "align": "left", "baseline": "alphabetic", "dy": -4}, "encoding": {"x": {"datum": 0, "type": "quantitative"}, "y": {"datum": 0.8, "type": "quantitative"}, "text": {"field": "tl"}}},
  {"mark": {"type": "text", "align": "right", "baseline": "alphabetic", "dy": -4}, "encoding": {"x": {"datum": 60, "type": "quantitative"}, "y": {"datum": 0.8, "type": "quantitative"}, "text": {"field": "tr"}}}
 ]}
]}
]
}
